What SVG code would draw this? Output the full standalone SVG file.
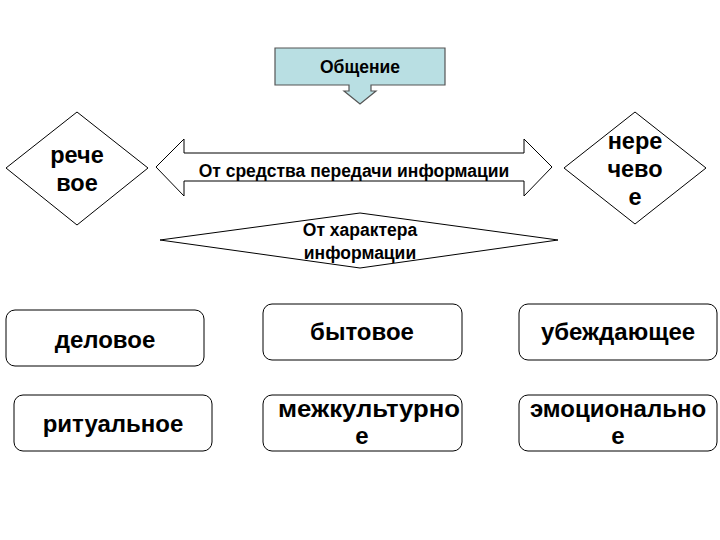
<svg xmlns="http://www.w3.org/2000/svg" width="720" height="540" viewBox="0 0 720 540">
<style>
.s{fill:#fff;stroke:#000;stroke-width:1}
.t{font-family:"Liberation Sans",Arial,sans-serif;font-weight:bold;fill:#000;text-anchor:middle}
.sm{font-size:17.5px}
.md{font-size:24px}
.bg{font-size:23.5px}
</style>
<rect width="720" height="540" fill="#fff"/>
<g id="obshchenie">
<path d="M275,48 H445 V85 H371 V91 H376 L360,104 L344,91 H349 V85 H275 Z" fill="#b9dfe3" stroke="#555" stroke-width="1.2"/>
<text class="t sm" x="360" y="73">Общение</text>
</g>
<g id="rechevoe">
<polygon class="s" points="77,112 148,168 77,225 6,168"/>
<text class="t bg" x="77" y="163">рече</text>
<text class="t bg" x="77" y="191">вое</text>
</g>
<g id="nerechevoe">
<polygon class="s" points="635,112 706,168 635,224 564,168"/>
<text class="t bg" x="635" y="149">нере</text>
<text class="t bg" x="635" y="177">чево</text>
<text class="t bg" x="635" y="205">е</text>
</g>
<g id="connectors">
<g id="sredstvo">
<polygon class="s" points="156,167 184,139 184,153 524,153 524,139 552,167 524,196 524,181 184,181 184,196"/>
<text class="t sm" x="354" y="177">От средства передачи информации</text>
</g>
<g id="harakter">
<polygon class="s" points="160,240 360,213 558,240 360,268"/>
<text class="t sm" x="360" y="236">От характера</text>
<text class="t sm" x="360" y="259">информации</text>
</g>
</g>
<g id="delovoe">
<rect class="s" x="6" y="310" width="198" height="56" rx="9"/>
<text class="t md" x="105" y="348">деловое</text>
</g>
<g id="bytovoe">
<rect class="s" x="263" y="304" width="199" height="56" rx="9"/>
<text class="t md" x="362" y="340">бытовое</text>
</g>
<g id="ubezhdayushchee">
<rect class="s" x="519" y="304" width="198" height="56" rx="9"/>
<text class="t md" x="618" y="340">убеждающее</text>
</g>
<g id="ritualnoe">
<rect class="s" x="14" y="395" width="198" height="56" rx="9"/>
<text class="t md" x="113" y="432">ритуальное</text>
</g>
<g id="mezhkulturnoe">
<rect class="s" x="263" y="395" width="199" height="56" rx="9"/>
<text class="t md" x="369" y="417" textLength="182" lengthAdjust="spacingAndGlyphs">межкультурно</text>
<text class="t md" x="362" y="444">е</text>
</g>
<g id="emotsionalnoe">
<rect class="s" x="519" y="395" width="198" height="56" rx="9"/>
<text class="t md" x="618" y="417">эмоционально</text>
<text class="t md" x="618" y="444">е</text>
</g>
</svg>
